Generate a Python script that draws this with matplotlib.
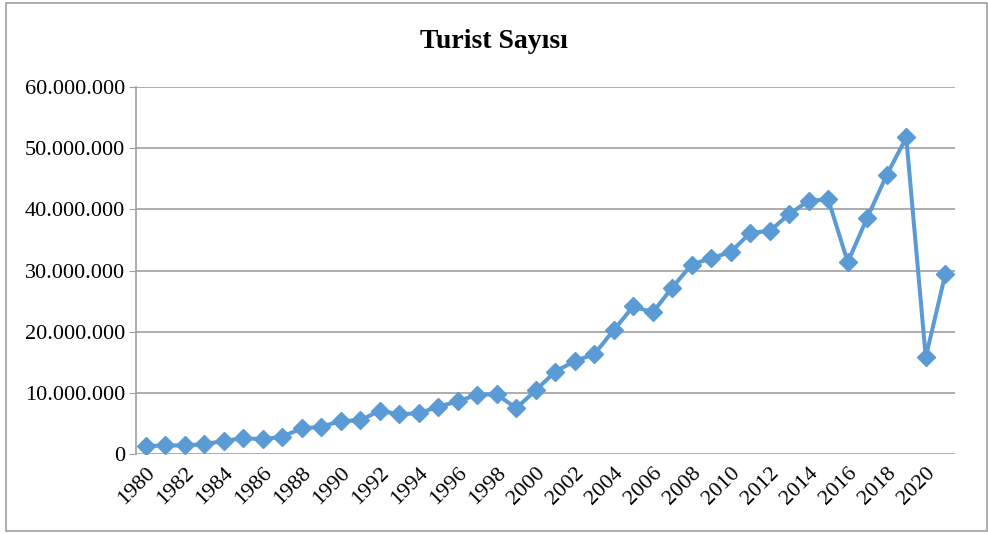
import matplotlib
matplotlib.use("Agg")
import matplotlib.pyplot as plt
from matplotlib.patches import Rectangle
from matplotlib.ticker import FuncFormatter, MultipleLocator

years = list(range(1980, 2022))
tourists = [1288000, 1405000, 1391000, 1625000, 2117000, 2614000, 2391000, 2855000,
            4172000, 4459000, 5389000, 5518000, 7076000, 6500000, 6670000, 7727000,
            8614000, 9689000, 9753000, 7487000, 10428000, 13450000, 15214000, 16302000,
            20263000, 24125000, 23149000, 27215000, 30980000, 32006000, 33028000, 36151000,
            36463000, 39226000, 41415000, 41617000, 31365000, 38620000, 45628000, 51747000,
            15826000, 29357000]

plt.rcParams['font.family'] = ['Liberation Serif', 'DejaVu Serif']

fig = plt.figure(figsize=(9.88, 5.34), dpi=100)
ax = fig.add_axes([136/988, 1-454/534, (955-136)/988, (454-87)/534])

fig.patches.append(Rectangle((6/988, 3/534), 1 - 7/988, 1 - 6/534, transform=fig.transFigure,
                             fill=False, edgecolor='#a0a0a0', linewidth=1.2))

x = list(range(len(years)))
ax.plot(x, tourists, color='#5B9BD5', linewidth=2.9, marker='D', markersize=9.5,
        markerfacecolor='#5B9BD5', markeredgecolor='#5B9BD5', zorder=3)

ax.set_xlim(-0.5, len(years) - 0.5)
ax.set_ylim(0, 60000000)
ax.yaxis.set_major_locator(MultipleLocator(10000000))
ax.yaxis.set_major_formatter(FuncFormatter(lambda v, p: f"{int(v):,}".replace(",", ".")))
ax.grid(axis='y', color='#a0a0a0', linewidth=1.2)
ax.set_axisbelow(True)

ax.set_xticks(x[::2])
ax.set_xticklabels([str(y) for y in years[::2]], rotation=45, ha='right',
                   rotation_mode='anchor', fontsize=16)
ax.tick_params(axis='y', labelsize=16, length=5, color='#a0a0a0', pad=3)
ax.tick_params(axis='x', length=0, pad=7)

for s in ['top', 'right', 'bottom']:
    ax.spines[s].set_visible(False)
ax.spines['left'].set_color('#a0a0a0')
ax.spines['left'].set_linewidth(1.2)

fig.text(0.5, 1 - 41/534, 'Turist Sayısı', ha='center', va='center',
         fontsize=20, fontweight='bold')

fig.savefig('out.png', dpi=100)
